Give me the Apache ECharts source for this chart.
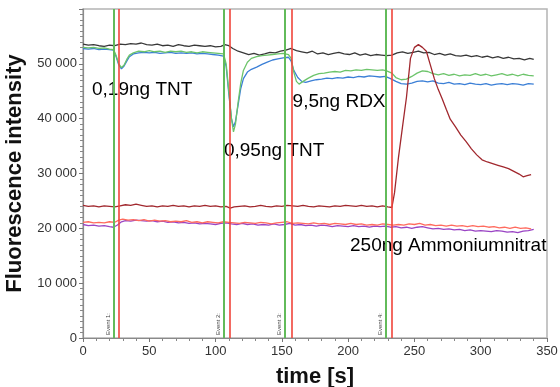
<!DOCTYPE html>
<html>
<head>
<meta charset="utf-8">
<script src="https://cdn.jsdelivr.net/npm/echarts@6/dist/echarts.min.js"></script>
<style>
  html, body { margin: 0; padding: 0; background: #fff; }
  #chart { width: 560px; height: 387px; }
</style>
</head>
<body>
<div id="chart"></div>
<script>
// time [s] / fluorescence intensity pairs
const blackTrace = [[0,53600],[4,53400],[8,53500],[12,53300],[16,53200],[20,53400],[24,53300],[28,53600],[32,53500],[36,53700],[40,53600],[44,53800],[48,53500],[52,53400],[56,53600],[60,53300],[64,53400],[68,53200],[72,53500],[76,53300],[80,53200],[84,53400],[88,53300],[92,53200],[96,53300],[100,53100],[104,53200],[107,53500],[110,53300],[113,52800],[117,52300],[121,52000],[125,51700],[129,51900],[133,51600],[137,51800],[141,52100],[145,52000],[149,52300],[153,52500],[157,52800],[161,52400],[165,52200],[169,52000],[173,52300],[177,51800],[181,52000],[185,51700],[189,51900],[193,52100],[197,51800],[201,51700],[205,52000],[209,51600],[213,51800],[217,51500],[221,51700],[225,51600],[229,51500],[233,51600],[237,52000],[241,52200],[245,51900],[249,52100],[253,52300],[257,52000],[261,52100],[265,51700],[269,51900],[273,51600],[277,51800],[281,51500],[285,51400],[289,51600],[293,51300],[297,51500],[301,51200],[305,51400],[309,51100],[313,51300],[317,51000],[321,51200],[325,50900],[329,51000],[333,50700],[337,51000],[340,50800]];

const greenTrace = [[0,53000],[4,52900],[8,53000],[12,52800],[16,52900],[20,52700],[23,52600],[25,51500],[27,50000],[29,49300],[31,49800],[33,50800],[35,51600],[38,52000],[42,52300],[46,52200],[50,52400],[54,52200],[58,52300],[62,52100],[66,52300],[70,52200],[74,52300],[78,52100],[82,52200],[86,52000],[90,52200],[94,52100],[98,52000],[102,51900],[106,51800],[108,50000],[110,45000],[112,40000],[113.5,37600],[115,39000],[117,43000],[119,46500],[121,48800],[124,50300],[127,51000],[131,51300],[135,51500],[139,51600],[143,51700],[147,51800],[151,51900],[155,51700],[157,51000],[159,48500],[161,46800],[163,46300],[166,46800],[170,47400],[174,47900],[178,48200],[182,48300],[186,48500],[190,48600],[194,48500],[198,48800],[202,48700],[206,48900],[210,48800],[214,49000],[218,48900],[222,48800],[226,48900],[229,48700],[233,48300],[236,47500],[240,47100],[244,47200],[248,47700],[252,48300],[256,48700],[260,48600],[264,48200],[268,48000],[272,48200],[276,47900],[280,48100],[284,47800],[288,48000],[292,47900],[296,48200],[300,47900],[304,48100],[308,47800],[312,48000],[316,48200],[320,47900],[324,48100],[328,47800],[332,48100],[336,47900],[340,47800]];

const blueTrace = [[0,52800],[4,52700],[8,52800],[12,52600],[16,52700],[20,52600],[23,52500],[25,51300],[27,49800],[29,49100],[31,49600],[33,50500],[35,51300],[38,51800],[42,52000],[46,52100],[50,52000],[54,52100],[58,51900],[62,52000],[66,52100],[70,51900],[74,52000],[78,51900],[82,52000],[86,51800],[90,51900],[94,51800],[98,51700],[102,51600],[106,51400],[108,49500],[110,44500],[112,40000],[113.5,38500],[115,39500],[117,42500],[119,45500],[121,47300],[124,48500],[127,49000],[131,49400],[135,49900],[139,50300],[143,50700],[147,50900],[151,51100],[155,51200],[157,50500],[159,48800],[162,47500],[165,46800],[168,46600],[172,46900],[176,47100],[180,47200],[184,47400],[188,47300],[192,47500],[196,47400],[200,47600],[204,47500],[208,47700],[212,47600],[216,47800],[220,47700],[224,47600],[228,47700],[232,47300],[236,46800],[240,46400],[244,46300],[248,46500],[252,46800],[256,46900],[260,46700],[264,46900],[268,46500],[272,46400],[276,46600],[280,46300],[284,46400],[288,46200],[292,46500],[296,46300],[300,46200],[304,46400],[308,46100],[312,46300],[316,46400],[320,46200],[324,46400],[328,46300],[332,46100],[336,46400],[340,46300]];

const maroonTrace = [[0,24200],[4,24000],[8,24100],[12,23900],[16,24100],[20,24000],[24,23900],[28,24100],[32,24300],[36,24200],[40,24400],[44,24200],[48,24000],[52,24100],[56,23900],[60,24100],[64,24000],[68,24200],[72,24000],[76,24100],[80,23900],[84,24100],[88,24000],[92,24200],[96,24000],[100,24100],[104,23900],[108,24000],[111,23700],[114,23900],[118,24000],[122,24100],[126,23900],[130,24000],[134,24200],[138,24000],[142,23900],[146,24100],[150,24000],[154,24200],[158,24100],[162,24000],[166,24200],[170,24000],[174,23900],[178,24100],[182,24000],[186,23900],[190,24100],[194,24000],[198,24200],[202,24100],[206,24000],[210,24200],[214,24000],[218,24100],[222,23900],[226,24100],[230,23900],[233,23800],[235,26500],[238,33000],[241,38500],[244,43900],[247,51000],[250,53000],[253,53500],[256,53000],[259,52300],[262,49800],[265,47300],[268,45300],[271,43600],[274,41700],[277,39900],[281,38500],[285,37000],[289,35800],[293,34500],[297,33400],[301,32500],[305,32100],[309,31800],[313,31500],[317,31200],[321,30900],[325,30400],[329,29900],[332,29400],[335,29600],[338,29800]];

const redTrace = [[0,21100],[4,21200],[8,21000],[12,21100],[16,21000],[20,21200],[24,21100],[27,21500],[30,21700],[34,21500],[38,21600],[42,21400],[46,21600],[50,21300],[54,21500],[58,21300],[62,21400],[66,21200],[70,21300],[74,21200],[78,21400],[82,21100],[86,21200],[90,21000],[94,21200],[98,21100],[102,21000],[106,21200],[110,21100],[114,21000],[118,20900],[122,21100],[126,21000],[130,20900],[134,21100],[138,21000],[142,20800],[146,21000],[150,21100],[154,21200],[158,20900],[162,21000],[166,20900],[170,20800],[174,21000],[178,20800],[182,20900],[186,20700],[190,20900],[194,20800],[198,20700],[202,20900],[206,20700],[210,20800],[214,20600],[218,20700],[222,20600],[226,20800],[230,20700],[234,20600],[238,20700],[242,20600],[246,20800],[250,20700],[254,20900],[258,20600],[262,20700],[266,20500],[270,20600],[274,20400],[278,20600],[282,20400],[286,20500],[290,20300],[294,20500],[298,20300],[302,20400],[306,20200],[310,20300],[314,20100],[318,20200],[322,20000],[326,20200],[330,20000],[334,20100],[338,19900]];

const purpleTrace = [[0,20700],[4,20500],[8,20600],[12,20400],[16,20500],[20,20300],[23,20200],[26,20600],[29,21200],[32,21400],[36,21300],[40,21500],[44,21400],[48,21300],[52,21400],[56,21200],[60,21300],[64,21100],[68,21200],[72,21000],[76,21100],[80,20900],[84,21000],[88,20800],[92,20900],[96,20800],[100,20700],[104,20900],[108,21000],[112,20800],[116,20700],[120,20900],[124,20700],[128,20800],[132,20600],[136,20700],[140,20600],[144,20800],[148,20600],[152,20700],[156,20900],[160,20600],[164,20700],[168,20500],[172,20600],[176,20400],[180,20600],[184,20500],[188,20300],[192,20500],[196,20400],[200,20300],[204,20500],[208,20300],[212,20400],[216,20200],[220,20400],[224,20300],[228,20400],[232,20200],[236,20300],[240,20100],[244,20200],[248,20000],[252,20200],[256,20300],[260,20100],[264,19900],[268,20000],[272,19800],[276,19900],[280,19700],[284,19800],[288,19600],[292,19700],[296,19500],[300,19600],[304,19500],[308,19400],[312,19600],[316,19500],[320,19300],[324,19400],[328,19200],[332,19500],[336,19600],[340,19800]];

// injection events (green = start, red = end)
const eventStart = [23.4, 106.3, 152.3, 228.5];
const eventEnd = [27.1, 110.9, 157.6, 233.0];
const eventNames = ['Event 1:', 'Event 2:', 'Event 3:', 'Event 4:'];

// sample annotations: [time, intensity, text]
const annotations = [
  [6.8, 45200, '0,19ng TNT'],
  [106.3, 34200, '0,95ng TNT'],
  [158.1, 43000, '9,5ng RDX'],
  [201.4, 16900, '250ng Ammoniumnitrat']
];

const font = "'Liberation Sans', Arial, sans-serif";
const chart = echarts.init(document.getElementById('chart'));

const eventLines = [];
eventStart.forEach((t, i) => {
  eventLines.push({
    xAxis: t,
    lineStyle: { color: '#62bb5a', width: 2, type: 'solid' },
    label: {
      show: true, formatter: eventNames[i], position: 'insideStartTop',
      fontSize: 6, color: '#444', distance: 3
    }
  });
});
eventEnd.forEach(t => {
  eventLines.push({
    xAxis: t,
    lineStyle: { color: '#f0443a', width: 1.6, type: 'solid' },
    label: { show: false }
  });
});

const trace = (data, color) => ({
  type: 'line',
  data: data,
  symbol: 'none',
  lineStyle: { color: color, width: 1.3 },
  itemStyle: { color: color },
  silent: true
});

const option = {
  animation: false,
  backgroundColor: '#fff',
  textStyle: { fontFamily: font },
  grid: {
    left: 83, right: 13, top: 9, bottom: 49,
    outerBoundsMode: 'none',
    containLabel: false,
    show: true, borderColor: '#b4b4b4', borderWidth: 1.5, backgroundColor: 'transparent'
  },
  xAxis: {
    type: 'value',
    min: 0, max: 350, interval: 50,
    name: 'time [s]',
    nameLocation: 'middle',
    nameGap: 28,
    nameTextStyle: { fontSize: 22, fontWeight: 'bold', color: '#111', fontFamily: font },
    axisLine: { lineStyle: { color: '#8a8a8a', width: 1.2 } },
    axisTick: { length: 4, lineStyle: { color: '#777' } },
    minorTick: { show: true, splitNumber: 5, length: 3, lineStyle: { color: '#888' } },
    axisLabel: { fontSize: 13, color: '#333', margin: 7 },
    splitLine: { show: false }
  },
  yAxis: {
    type: 'value',
    min: 0, max: 60000, interval: 10000,
    name: 'Fluorescence intensity',
    nameLocation: 'middle',
    nameGap: 50,
    nameTextStyle: { fontSize: 22, fontWeight: 'bold', color: '#111', fontFamily: font },
    axisLine: { show: true, lineStyle: { color: '#8a8a8a', width: 1.2 } },
    axisTick: { show: true, length: 4, lineStyle: { color: '#777' } },
    minorTick: { show: true, splitNumber: 10, length: 3, lineStyle: { color: '#888' } },
    axisLabel: {
      fontSize: 13, color: '#333', margin: 6,
      formatter: v => v >= 60000 ? '' : (v === 0 ? '0' : (v / 1000) + ' 000')
    },
    splitLine: { show: false }
  },
  series: [
    {
      type: 'scatter',
      data: annotations.map(a => [a[0], a[1]]),
      symbolSize: 0,
      silent: true,
      itemStyle: { opacity: 1 },
      label: {
        show: true,
        position: 'right',
        distance: 0,
        fontSize: 19,
        color: '#000',
        opacity: 1,
        fontFamily: font,
        formatter: p => annotations[p.dataIndex][2]
      },
      markLine: {
        silent: true,
        symbol: ['none', 'none'],
        animation: false,
        data: eventLines
      }
    },
    trace(purpleTrace, '#9a44c4'),
    trace(redTrace, '#ff6b5e'),
    trace(blackTrace, '#383838'),
    trace(blueTrace, '#3b7fd6'),
    trace(greenTrace, '#6cc46a'),
    trace(maroonTrace, '#a1282e')
  ]
};

chart.setOption(option);
</script>
</body>
</html>
